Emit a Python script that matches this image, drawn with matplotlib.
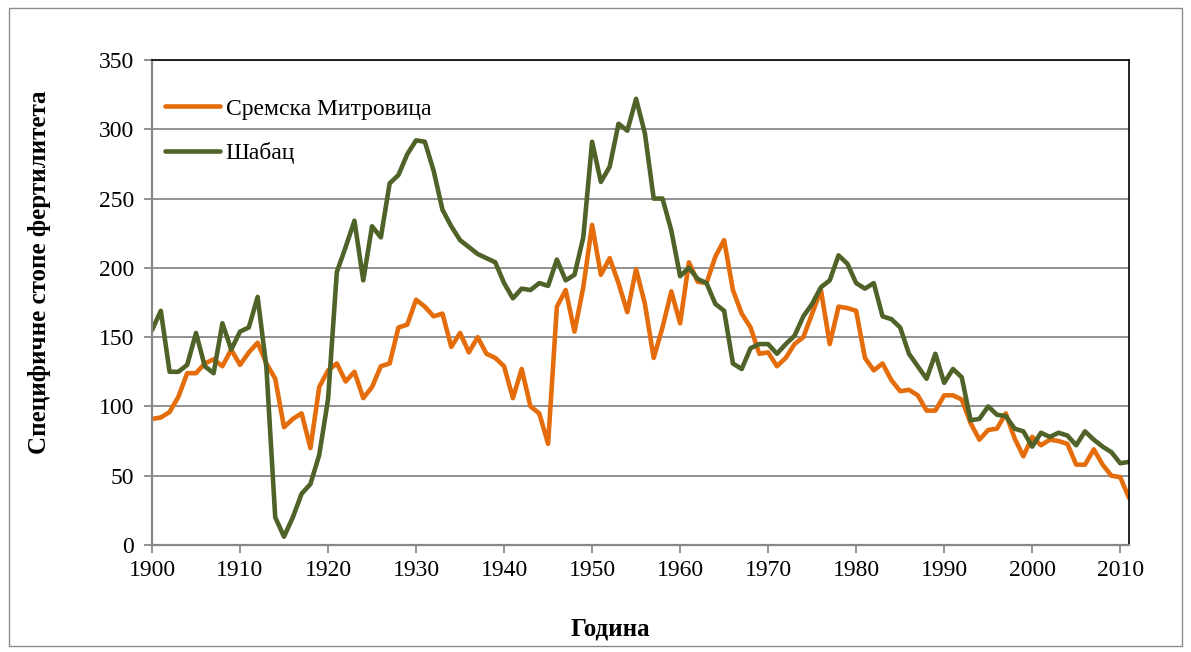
import matplotlib
matplotlib.use('Agg')
import matplotlib.pyplot as plt
from matplotlib.patches import Rectangle

# years 1900..2011
years = list(range(1900, 2012))

# Сремска Митровица
sremska = [
    91, 92, 96, 107, 124, 124, 131, 134, 129, 141,   # 1900-1909
    130, 139, 146, 131, 120, 85, 91, 95, 70, 114,    # 1910-1919
    126, 131, 118, 125, 106, 114, 129, 131, 157, 159,  # 1920-1929
    177, 172, 165, 167, 143, 153, 139, 150, 138, 135,  # 1930-1939
    129, 106, 127, 100, 95, 73, 172, 184, 154, 186,    # 1940-1949
    231, 195, 207, 189, 168, 199, 174, 135, 157, 183,  # 1950-1959
    160, 204, 190, 189, 208, 220, 184, 167, 157, 138,  # 1960-1969
    139, 129, 135, 145, 150, 167, 184, 145, 172, 171,  # 1970-1979
    169, 135, 126, 131, 119, 111, 112, 108, 97, 97,    # 1980-1989
    108, 108, 105, 88, 76, 83, 84, 95, 77, 64,         # 1990-1999
    78, 72, 76, 75, 73, 58, 58, 69, 58, 50,            # 2000-2009
    49, 34,                                            # 2010-2011
]

# Шабац
sabac = [
    155, 169, 125, 125, 130, 153, 129, 124, 160, 141,  # 1900-1909
    154, 157, 179, 128, 20, 6, 20, 37, 44, 65,         # 1910-1919
    105, 197, 215, 234, 191, 230, 222, 261, 267, 282,  # 1920-1929
    292, 291, 270, 242, 230, 220, 215, 210, 207, 204,  # 1930-1939
    189, 178, 185, 184, 189, 187, 206, 191, 195, 222,  # 1940-1949
    291, 262, 273, 304, 299, 322, 297, 250, 250, 227,  # 1950-1959
    194, 200, 192, 189, 174, 169, 131, 127, 142, 145,  # 1960-1969
    145, 138, 145, 151, 165, 174, 186, 191, 209, 203,  # 1970-1979
    189, 185, 189, 165, 163, 157, 138, 129, 120, 138,  # 1980-1989
    117, 127, 121, 90, 91, 100, 94, 93, 84, 82,        # 1990-1999
    71, 81, 78, 81, 79, 72, 82, 76, 71, 67,            # 2000-2009
    59, 60,                                            # 2010-2011
]

yticks = [0, 50, 100, 150, 200, 250, 300, 350]
xticks = list(range(1900, 2011, 10))

plt.rcParams['font.family'] = ['Liberation Serif', 'DejaVu Serif']

W, H = 1191, 652
fig = plt.figure(figsize=(W/100, H/100), dpi=100)
ax = fig.add_axes([152/W, 1-545/H, (1129-152)/W, (545-60)/H])

# outer chart border
fig.patches.append(Rectangle((9/W, 6/H), 1173/W, 638/H, transform=fig.transFigure,
                             fill=False, edgecolor='#8c8c8c', linewidth=1.0))

ax.plot(years, sremska, color='#E46C0A', linewidth=3.3, solid_joinstyle='round',
        solid_capstyle='round', label='Сремска Митровица')
ax.plot(years, sabac, color='#4F6228', linewidth=3.3, solid_joinstyle='round',
        solid_capstyle='round', label='Шабац')

ax.set_xlim(1900, 2011)
ax.set_ylim(0, 350)
ax.set_xticks(xticks)
ax.set_yticks(yticks)
ax.yaxis.grid(True, color='#888888', linewidth=1.3)
ax.set_axisbelow(True)

for s in ['left', 'bottom']:
    ax.spines[s].set_color('#888888')
    ax.spines[s].set_linewidth(1.6)
for s in ['top', 'right']:
    ax.spines[s].set_color('black')
    ax.spines[s].set_linewidth(1.2)

ax.tick_params(axis='both', direction='out', length=6, width=1.3, color='#888888',
               labelsize=17, labelcolor='black')
ax.tick_params(axis='x', pad=5)
ax.tick_params(axis='y', pad=7)

ax.set_xlabel('Година', fontsize=18, fontweight='bold')
ax.xaxis.set_label_coords(0.469, -0.150)
ax.set_ylabel('Специфичне стопе фертилитета', fontsize=18, fontweight='bold')
ax.yaxis.set_label_coords(-0.103, 0.562)

ax.legend(loc='upper left', bbox_to_anchor=(-0.008, 0.965), frameon=False, fontsize=17,
          handlelength=2.3, handletextpad=0.25, labelspacing=0.95)

plt.savefig('out.png', dpi=100)
